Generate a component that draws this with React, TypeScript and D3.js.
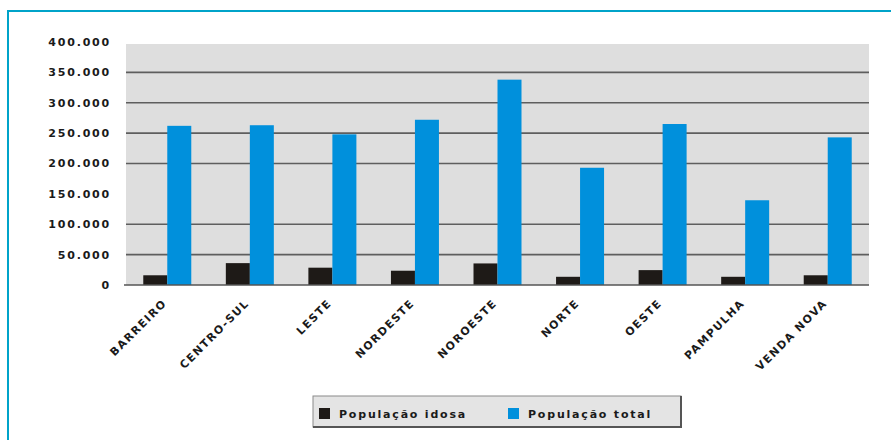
import React from "react";
import * as d3 from "d3";

const categories = ["BARREIRO", "CENTRO-SUL", "LESTE", "NORDESTE", "NOROESTE", "NORTE", "OESTE", "PAMPULHA", "VENDA NOVA"];
const idosa = [16000, 36000, 28500, 23500, 35500, 13500, 24500, 13500, 16000];
const total = [262000, 263000, 248000, 272000, 338000, 193000, 265000, 139500, 243000];
const yTicks = [0, 50000, 100000, 150000, 200000, 250000, 300000, 350000, 400000];
const gridTicks = [50000, 100000, 200000, 250000, 300000, 350000];
const seriesNames = ["População idosa", "População total"];
const seriesColors = ["#1e1a17", "#0090dc"];

const W = 891;
const H = 440;

export default function App() {
  const left = 126;
  const right = 869;
  const x = d3.scaleBand<string>().domain(categories).range([left, right]).paddingInner(0).paddingOuter(0);
  const y = d3.scaleLinear().domain([0, 400000]).range([285, 42]);
  const bw = 24;
  const fmt = (v: number) => (v === 0 ? "0" : d3.format(",")(v).replace(/,/g, "."));
  const font = "'DejaVu Sans', Verdana, sans-serif";

  return (
    <svg width={W} height={H} style={{ position: "absolute", left: 0, top: 0, background: "#fff" }}>
      <rect x={0} y={0} width={W} height={H} fill="#fff" />
      {/* frame */}
      <line x1={7} x2={W} y1={11} y2={11} stroke="#00a3c9" strokeWidth={2} />
      <line x1={8} x2={8} y1={10} y2={H} stroke="#00a3c9" strokeWidth={2} />
      {/* plot bg */}
      <rect x={left} y={y(400000) + 2} width={right - left} height={y(0) - y(400000) - 2} fill="#dedede" />
      {gridTicks.map((t) => (
        <line key={t} x1={left} x2={right} y1={y(t)} y2={y(t)} stroke="#5e5e5e" strokeWidth={1.6} />
      ))}
      {/* bars */}
      {categories.map((c, i) => {
        const cx = (x(c) as number) + x.bandwidth() / 2;
        return (
          <g key={c}>
            <rect x={cx - bw} y={y(idosa[i])} width={bw} height={y(0) - y(idosa[i])} fill={seriesColors[0]} />
            <rect x={cx} y={y(total[i])} width={bw} height={y(0) - y(total[i])} fill={seriesColors[1]} />
          </g>
        );
      })}
      <line x1={left - 2} x2={right} y1={y(0)} y2={y(0)} stroke="#555" strokeWidth={1.6} />
      {/* y labels */}
      {yTicks.map((t) => (
        <text
          key={t}
          x={111}
          y={y(t)}
          dy="0.36em"
          textAnchor="end"
          fontFamily={font}
          fontWeight="bold"
          fontSize={11}
          letterSpacing={1.8}
          fill="#1a1a1a"
        >
          {fmt(t)}
        </text>
      ))}
      {/* x labels */}
      {categories.map((c) => {
        const cx = (x(c) as number) + x.bandwidth() / 2;
        const ty = 304;
        return (
          <text
            key={c}
            x={cx}
            y={ty}
            transform={`rotate(-45 ${cx} ${ty})`}
            textAnchor="end"
            fontFamily={font}
            fontWeight="bold"
            fontSize={11}
            letterSpacing={1.4}
            fill="#1a1a1a"
          >
            {c}
          </text>
        );
      })}
      {/* legend */}
      <rect x={313} y={396} width={368} height={31} fill="#e4e4e4" stroke="#8a8a8a" strokeWidth={1} />
      <line x1={313} x2={682} y1={427} y2={427} stroke="#555" strokeWidth={2} />
      <line x1={681} x2={681} y1={396} y2={428} stroke="#555" strokeWidth={2} />
      <rect x={319} y={408} width={11} height={11} fill={seriesColors[0]} />
      <text x={339} y={418} fontFamily={font} fontWeight="bold" fontSize={11} letterSpacing={1.8} fill="#1a1a1a">
        {seriesNames[0]}
      </text>
      <rect x={508} y={408} width={11} height={11} fill={seriesColors[1]} />
      <text x={528} y={418} fontFamily={font} fontWeight="bold" fontSize={11} letterSpacing={1.8} fill="#1a1a1a">
        {seriesNames[1]}
      </text>
    </svg>
  );
}
